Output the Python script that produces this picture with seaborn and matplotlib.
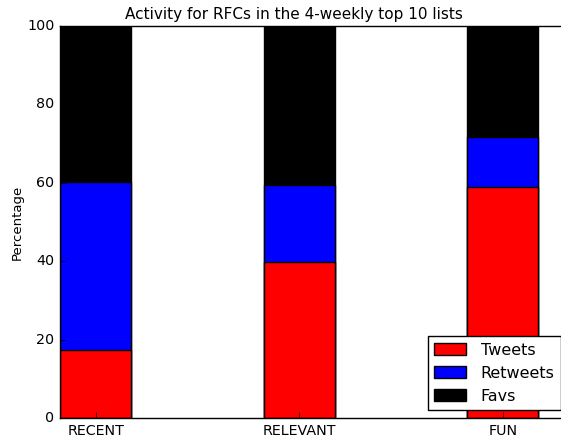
import matplotlib
matplotlib.use("Agg")
import matplotlib.pyplot as plt
import seaborn as sns
import pandas as pd
from matplotlib.patches import Patch

categories = ["RECENT", "RELEVANT", "FUN"]
tweets = [17.3, 39.9, 58.9]
retweets = [42.9, 19.5, 12.9]
favs = [39.8, 40.6, 28.2]

plt.style.use('classic')
plt.rcParams['font.family'] = ['DejaVu Sans']

df = pd.DataFrame({"cat": categories, "tweets": tweets,
                   "retweets": retweets, "favs": favs})
df["tr"] = df["tweets"] + df["retweets"]
df["total"] = df["tr"] + df["favs"]

fig = plt.figure(figsize=(5.61, 4.37), dpi=100, facecolor='white')
# axes runs a bit past the right edge of the figure (cropped like the original)
ax = fig.add_axes([60 / 561, 19 / 437, 509 / 561, 392 / 437])

# stacked bars drawn as overlapping cumulative heights
sns.barplot(data=df, x="cat", y="total", color="black", width=0.35,
            edgecolor="black", linewidth=1, saturation=1, ax=ax)
sns.barplot(data=df, x="cat", y="tr", color="blue", width=0.35,
            edgecolor="black", linewidth=1, saturation=1, ax=ax)
sns.barplot(data=df, x="cat", y="tweets", color="red", width=0.35,
            edgecolor="black", linewidth=1, saturation=1, ax=ax)

ax.set_xlim(-0.175, 2.325)
ax.set_ylim(0, 100)
ax.set_xlabel("")
ax.set_ylabel("Percentage", fontsize=9.5, labelpad=2.5)
ax.set_title("Activity for RFCs in the 4-weekly top 10 lists", fontsize=11,
             x=(293.5 - 60) / 509)
ax.tick_params(labelsize=10.3, direction='in', top=False, right=False)
ax.set_facecolor('white')

handles = [Patch(facecolor=c, edgecolor='black', label=l)
           for c, l in zip(["red", "blue", "black"], ["Tweets", "Retweets", "Favs"])]
ax.legend(handles=handles, loc='lower right', fontsize=11.5, fancybox=False,
          framealpha=1, borderaxespad=0.5, handletextpad=0.9)

fig.savefig("out.png", dpi=100, facecolor='white')
